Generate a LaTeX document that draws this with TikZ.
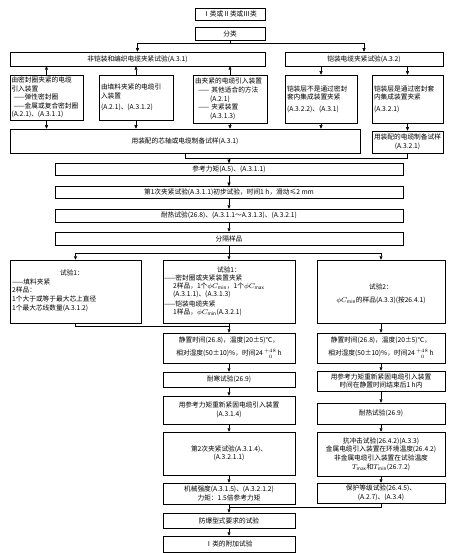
\documentclass[tikz,border=0pt]{standalone}
\usepackage{fontspec}
\setmainfont{Noto Sans CJK SC}
\usetikzlibrary{arrows.meta}
\newcommand{\tlim}{24\,$\scriptstyle^{+48}_{\phantom{+}0}$\,}
\begin{document}
\begin{tikzpicture}[x=1pt,y=-1pt,
  every node/.style={font=\fontsize{6.7}{8.6}\selectfont},
  box/.style={draw, line width=0.5pt, inner sep=1.2pt, align=center},
  lbox/.style={box, align=left},
  ln/.style={line width=0.5pt},
  arr/.style={line width=0.5pt, -{Triangle[length=3.5pt,width=3pt]}},
  txt/.style={inner sep=0pt, anchor=west},
  ctxt/.style={inner sep=0pt, anchor=center},
]
\useasboundingbox (0,0) rectangle (469,553);
% top
\node[box, minimum width=70pt, minimum height=12pt] (top) at (230,14) {Ⅰ类或Ⅱ类或Ⅲ类};
\node[box, minimum width=70pt, minimum height=13pt] (cls) at (230,33.5) {分类};
\node[box, minimum width=255pt, minimum height=14pt] (L1) at (137.5,59) {非铠装和编织电缆夹紧试验(A.3.1)};
\node[box, minimum width=158pt, minimum height=14pt] (R1) at (364,59) {铠装电缆夹紧试验(A.3.2)};
% row 3
\node[lbox, text width=70pt, minimum height=45pt, inner xsep=1.5pt] (A) at (46.5,97.5)
  {由密封圈夹紧的电缆\\引入装置\\\hspace*{2pt}——弹性密封圈\\\hspace*{2pt}——金属或复合密封圈\\(A.2.1)、(A.3.1.1)};
\node[lbox, text width=70pt, minimum height=45pt, inner xsep=2pt] (B) at (136,97.5)
  {由填料夹紧的电缆引\\入装置\\[3pt](A.2.1)、(A.3.1.2)};
\node[lbox, text width=70pt, minimum height=48pt, inner xsep=2pt] (C) at (230,99)
  {由夹紧的电缆引入装置\\\hspace*{3pt}—— 其他适合的方法\\\hspace*{15pt}(A.2.1)\\\hspace*{3pt}—— 夹紧装置\\\hspace*{15pt}(A.3.1.3)};
\node[lbox, text width=68pt, minimum height=48pt, inner xsep=2pt] (D) at (321,99)
  {铠装层不是通过密封\\套内集成装置夹紧\\[3pt](A.3.2.2)、(A.3.1)};
\node[lbox, text width=67pt, minimum height=48pt, inner xsep=2pt] (E) at (407.5,99)
  {铠装层是通过密封套\\内集成装置夹紧\\[3pt](A.3.2.1)};
% row 4
\node[box, minimum width=350pt, minimum height=24pt] (P) at (185,141) {用装配的芯轴或电缆制备试样(A.3.1)};
\node[box, minimum width=71pt, minimum height=22pt, inner xsep=0.5pt] (PS) at (407.5,142) {用装配的电缆制备试样\\(A.3.2.1)};
% main chain
\node[box, minimum width=348pt, minimum height=12pt] (Ref) at (229,169.5) {参考力矩(A.5)、(A.3.1.1)};
\node[box, minimum width=348pt, minimum height=12pt] (First) at (229,192.5) {第1次夹紧试验(A.3.1.1)初步试验，时间1 h，滑动≤2 mm};
\node[box, minimum width=348pt, minimum height=13pt] (Heat) at (229,215.5) {耐热试验(26.8)、(A.3.1.1～A.3.1.3)、(A.3.2.1)};
\node[box, minimum width=348pt, minimum height=13pt] (Sep) at (229,238.5) {分隔样品};
% tests
\node[box, minimum width=131pt, minimum height=63pt] (T1L) at (75.5,291.5) {};
\node[ctxt] (t1la) at (72,273) {试验1：};
\node[txt] (t1lb) at (12,281.5) {——填料夹紧};
\node[txt] (t1lc) at (12,290) {2样品：};
\node[txt] (t1ld) at (12,299) {1个大于或等于最大芯上直径};
\node[txt] (t1le) at (12,308) {1个最大芯线数量(A.3.1.2)};

\node[box, minimum width=132pt, minimum height=63pt] (T1M) at (229,291.5) {};
\node[ctxt] (t1ma) at (229,270) {试验1：};
\node[txt] (t1mb) at (164,278) {——密封圈或夹紧装置夹紧};
\node[txt] (t1mc) at (173,286.5) {2样品，1个$\phi C_{\mathrm{min}}$，1个$\phi C_{\mathrm{max}}$};
\node[txt] (t1md) at (173,294.5) {(A.3.1.1)、(A.3.1.3)};
\node[txt] (t1me) at (164,303.5) {——铠装电缆夹紧};
\node[txt] (t1mf) at (173,312.5) {1样品，$\phi C_{\mathrm{min}}$(A.3.2.1)};

\node[box, minimum width=128pt, minimum height=63pt] (T2) at (381,291.5) {};
\node[ctxt] (t2a) at (381,287) {试验2：};
\node[ctxt] (t2b) at (381,300) {$\phi C_{\mathrm{min}}$的样品(A.3.3)(按26.4.1)};
% middle column
\node[box, minimum width=132pt, minimum height=30pt] (StM) at (229,348)
  {静置时间(26.8)，温度(20±5)℃，\\[4.5pt]相对湿度(50±10)\%，时间\tlim h};
\node[box, minimum width=132pt, minimum height=15pt] (ColdM) at (229,379.5) {耐寒试验(26.9)};
\node[box, minimum width=132pt, minimum height=28pt] (RetM) at (229,410) {用参考力矩重新紧固电缆引入装置\\(A.3.1.4)};
\node[box, minimum width=132pt, minimum height=43pt] (Sec) at (229,453.5) {第2次夹紧试验(A.3.1.4)、\\(A.3.2.1.1)};
\node[box, minimum width=132pt, minimum height=21pt] (Mech) at (229,493.5) {机械强度(A.3.1.5)、(A.3.2.1.2)\\力矩：1.5倍参考力矩};
\node[box, minimum width=132pt, minimum height=15pt] (Ex) at (229,520.5) {防爆型式要求的试验};
\node[box, minimum width=132pt, minimum height=16pt] (Add) at (229,544) {Ⅰ类的附加试验};
% right column
\node[box, minimum width=128pt, minimum height=30pt] (StR) at (381,348)
  {静置时间(26.8)，温度(20±5)℃，\\[4.5pt]相对湿度(50±10)\%，时间\tlim h};
\node[box, minimum width=128pt, minimum height=20pt] (RetR) at (381,381) {用参考力矩重新紧固电缆引入装置\\时间在静置时间结束后1 h内};
\node[box, minimum width=128pt, minimum height=21pt] (HeatR) at (381,413.5) {耐热试验(26.9)};
\node[box, minimum width=128pt, minimum height=44pt] (ImpR) at (381,454)
  {抗冲击试验(26.4.2)(A.3.3)\\金属电缆引入装置在环境温度(26.4.2)\\非金属电缆引入装置在试验温度\\$T_{\mathrm{max}}$和$T_{\mathrm{min}}$(26.7.2)};
\node[box, minimum width=128pt, minimum height=20pt] (Prot) at (381,493) {保护等级试验(26.4.5)、\\(A.2.7)、(A.3.4)};

% connectors
\coordinate (j1) at (230,43);
\draw[ln] (cls.south) -- (j1);
\draw[arr] (j1) -| (L1.north);
\draw[arr] (j1) -| (R1.north);
\foreach \n in {A,B,C}{
  \draw[arr] (\n.north) -- (\n.north |- L1.south);
  \draw[arr] (\n.south) -- (\n.south |- P.north);
}
\draw[arr] (R1.south -| D.north) -- (D.north);
\draw[arr] (R1.south -| E.north) -- (E.north);
\draw[arr] (D.south) -- (D.south |- P.north);
\draw[arr] (E.south) -- (PS.north);
\coordinate (j2) at (229,158);
\draw[ln] (P.south) -- (P.south |- j2) -- (PS.south |- j2) -- (PS.south);
\draw[arr] (j2) -- (Ref.north);
\draw[arr] (Ref.south) -- (First.north);
\draw[arr] (First.south) -- (Heat.north);
\draw[arr] (Heat.south) -- (Sep.north);
\coordinate (j3) at (229,253);
\draw[ln] (Sep.south) -- (j3);
\draw[arr] (j3) -| (T1L.north);
\draw[arr] (j3) -| (T2.north);
\draw[arr] (j3) -- (T1M.north);
\coordinate (j4) at (229,326.5);
\draw[ln] (T1L.south) |- (j4);
\draw[arr] (T1M.south) -- (StM.north);
\draw[arr] (StM.south) -- (ColdM.north);
\draw[arr] (ColdM.south) -- (RetM.north);
\draw[arr] (RetM.south) -- (Sec.north);
\draw[arr] (Sec.south) -- (Mech.north);
\draw[arr] (Mech.south) -- (Ex.north);
\draw[arr] (Ex.south) -- (Add.north);
\draw[arr] (T2.south) -- (StR.north);
\draw[arr] (StR.south) -- (RetR.north);
\draw[arr] (RetR.south) -- (HeatR.north);
\draw[arr] (HeatR.south) -- (ImpR.north);
\draw[arr] (ImpR.south) -- (Prot.north);
\coordinate (j5) at (229,507);
\draw[ln] (Prot.south) |- (j5);
\end{tikzpicture}
\end{document}
